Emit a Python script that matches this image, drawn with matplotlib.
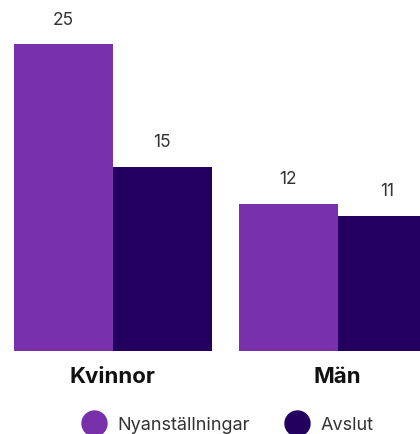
import matplotlib
matplotlib.use("Agg")
import matplotlib.pyplot as plt
import numpy as np
from matplotlib.lines import Line2D

plt.rcParams["font.family"] = ["Inter", "DejaVu Sans"]

# ── Data ──────────────────────────────────────────────────────────
categories = ["Kvinnor", "Män"]
series_names = ["Nyanställningar", "Avslut"]
nyanstallningar = [25, 12]
avslut = [15, 11]

colors = ["#7831AA", "#230060"]
bar_w = 0.44

fig = plt.figure(figsize=(4.2, 4.35), dpi=100)
# axes runs past the right edge so the last bar is cropped
ax = fig.add_axes([0.0, 0.1908, 450 / 420, 0.790])

x = np.arange(len(categories))
for i, (vals, col) in enumerate(zip([nyanstallningar, avslut], colors)):
    pos = x + (i - 0.5) * bar_w
    bars = ax.bar(pos, vals, width=bar_w, color=col, label=series_names[i])
    for b, v in zip(bars, vals):
        ax.annotate(f"{v}", (b.get_x() + b.get_width() / 2, v),
                    xytext=(0, 12), textcoords="offset points",
                    ha="center", va="bottom", fontsize=12.5, color="#333333")

ax.set_xlim(-0.5, 1.5)
ax.set_ylim(0, 28)
ax.set_xticks(x)
ax.set_xticklabels(categories, fontsize=16, fontweight="bold", color="#111111")
ax.tick_params(axis="x", length=0, pad=11)
ax.set_yticks([])
for s in ax.spines.values():
    s.set_visible(False)

handles = [Line2D([], [], marker="o", linestyle="none", markersize=18,
                  markerfacecolor=c, markeredgecolor=c) for c in colors]
ax.legend(handles, series_names, loc="center", bbox_to_anchor=(0.507, -0.215),
          ncol=2, frameon=False, fontsize=13, labelcolor="#333333",
          handletextpad=0.7, columnspacing=2.0, handlelength=1.2)

fig.savefig("out.png", dpi=100)
